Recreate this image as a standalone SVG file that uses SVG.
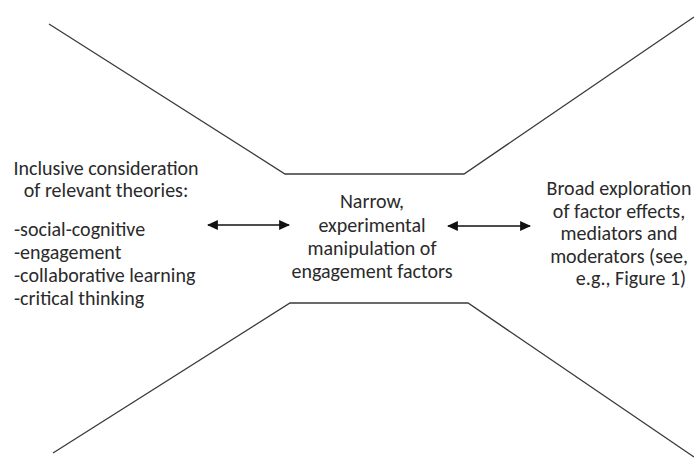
<svg xmlns="http://www.w3.org/2000/svg" width="694" height="460" viewBox="0 0 694 460">
<style>
.fun{fill:none;stroke:#3a3a3a;stroke-width:1.3}
.arr{stroke:#111;stroke-width:1.6;marker-start:url(#ah);marker-end:url(#ah)}
text{font-family:Carlito,"Open Sans","Liberation Sans",sans-serif;font-size:20px;fill:#2a2a2a}
.c{text-anchor:middle}
</style>
<defs>
<marker id="ah" viewBox="0 0 10 10" refX="9" refY="5" markerWidth="11" markerHeight="10" markerUnits="userSpaceOnUse" orient="auto-start-reverse" preserveAspectRatio="none">
<path d="M0,0 L10,5 L0,10 z" fill="#111"/>
</marker>
</defs>
<rect width="694" height="460" fill="#fff"/>
<g id="funnel">
<polyline class="fun" points="49,24 285,174 464,174 694,17"/>
<polyline class="fun" points="53,453 290,303 468,303 694,457"/>
</g>
<g id="connectors">
<line class="arr" x1="208" y1="225" x2="289" y2="225"/>
<line class="arr" x1="448" y1="226" x2="530" y2="226"/>
</g>
<g id="left">
<text class="c" x="106" y="175">Inclusive consideration</text>
<text class="c" x="106" y="197">of relevant theories:</text>
<text x="14" y="236">-social-cognitive</text>
<text x="14" y="259">-engagement</text>
<text x="14" y="282">-collaborative learning</text>
<text x="14" y="305">-critical thinking</text>
</g>
<g id="center">
<text class="c" x="372" y="208">Narrow,</text>
<text class="c" x="372" y="232">experimental</text>
<text class="c" x="372" y="255">manipulation of</text>
<text class="c" x="372" y="278">engagement factors</text>
</g>
<g id="right">
<text class="c" x="619" y="195">Broad exploration</text>
<text class="c" x="619" y="218">of factor effects,</text>
<text class="c" x="619" y="240">mediators and</text>
<text class="c" x="619" y="263">moderators (see,</text>
<text class="c" x="631" y="285">e.g., Figure 1)</text>
</g>
</svg>
